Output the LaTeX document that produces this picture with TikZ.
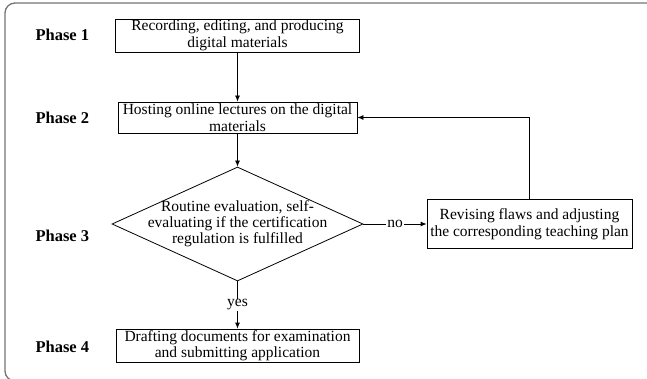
\documentclass[tikz,border=0pt]{standalone}
\usepackage{fontspec}
\setmainfont{Liberation Serif}
\usetikzlibrary{arrows.meta,shapes.geometric}

\tikzset{
  stage/.style={draw, line width=0.8pt, align=center, inner sep=0pt,
    font=\fontsize{15.5}{16.5}\selectfont},
  decision/.style={draw, diamond, line width=0.8pt, inner sep=0pt,
    minimum width=251pt, minimum height=114pt},
  phase/.style={anchor=west, font=\fontsize{16.5}{18}\selectfont\bfseries},
  flow/.style={line width=0.8pt, -{Latex[length=6pt,width=5pt]}},
  tag/.style={fill=white, inner sep=1pt, font=\fontsize{15.5}{16.5}\selectfont}
}

\begin{document}
\begin{tikzpicture}[x=1pt,y=-1pt]
    \useasboundingbox (0,0) rectangle (647,379);
    \clip (0,0) rectangle (647,379);
    \draw[black!55, line width=1.3pt, rounded corners=10pt] (5,3) rectangle (720,381);

    \node[phase] (p1) at (32,35) {Phase 1};
    \node[phase] (p2) at (32,118) {Phase 2};
    \node[phase] (p3) at (32,236) {Phase 3};
    \node[phase] (p4) at (32,347) {Phase 4};

    \node[stage, minimum width=244pt, minimum height=33pt] (record) at (237.5,35.5)
        {Recording, editing, and producing\\digital materials};
    \node[stage, minimum width=239pt, minimum height=31pt] (host) at (237.5,117.5)
        {Hosting online lectures on the digital\\materials};
    \node[decision] (check) at (237.5,224) {};
    \node[align=center, inner sep=0pt, font=\fontsize{15.5}{16}\selectfont] (checktext) at (check)
        {Routine evaluation, self-\\evaluating if the certification\\regulation is fulfilled};
    \node[stage, minimum width=205pt, minimum height=49pt] (revise) at (529.5,224)
        {Revising flaws and adjusting\\the corresponding teaching plan};
    \node[stage, minimum width=243pt, minimum height=33pt] (draft) at (237.5,345.5)
        {Drafting documents for examination\\and submitting application};

    \draw[flow] (record) -- (host);
    \draw[flow] (host) -- (check);
    \draw[flow] (check) -- node[tag] {no} (revise);
    \draw[flow] (check) -- node[tag] {yes} (draft);
    \draw[flow] (revise.north) |- (host.east);
\end{tikzpicture}
\end{document}
